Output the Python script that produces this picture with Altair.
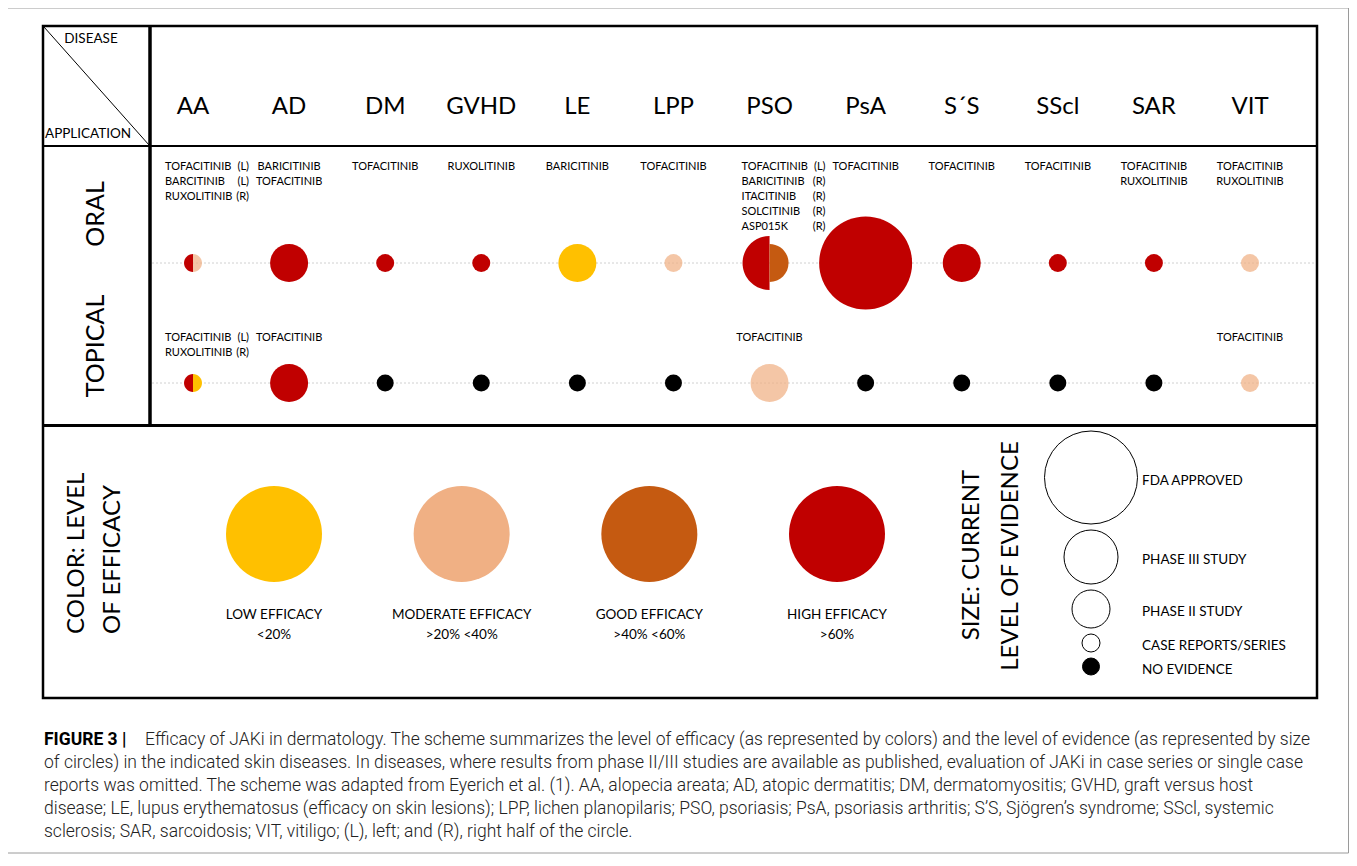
import altair as alt
import pandas as pd

# ---------------- data ----------------
DISEASES = ["AA", "AD", "DM", "GVHD", "LE", "LPP", "PSO", "PsA", "S´S", "SScl", "SAR", "VIT"]
APPLICATIONS = ["ORAL", "TOPICAL"]

ORAL_DRUGS = [
    ["TOFACITINIB (L)", "BARCITINIB (L)", "RUXOLITINIB (R)"],
    ["BARICITINIB", "TOFACITINIB"],
    ["TOFACITINIB"],
    ["RUXOLITINIB"],
    ["BARICITINIB"],
    ["TOFACITINIB"],
    ["TOFACITINIB (L)", "BARICITINIB (R)", "ITACITINIB (R)", "SOLCITINIB (R)", "ASP015K (R)"],
    ["TOFACITINIB"],
    ["TOFACITINIB"],
    ["TOFACITINIB"],
    ["TOFACITINIB", "RUXOLITINIB"],
    ["TOFACITINIB", "RUXOLITINIB"],
]
TOPICAL_DRUGS = [
    ["TOFACITINIB (L)", "RUXOLITINIB (R)"],
    ["TOFACITINIB"], [], [], [], [],
    ["TOFACITINIB"], [], [], [], [],
    ["TOFACITINIB"],
]

# "L|R" = left half | right half of the circle
ORAL_EFFICACY = ["high|moderate", "high", "high", "high", "low", "moderate",
                 "high|good", "high", "high", "high", "high", "moderate"]
ORAL_EVIDENCE = ["case", "phase2", "case", "case", "phase2", "case",
                 "phase3|phase2", "fda", "phase2", "case", "case", "case"]
TOPICAL_EFFICACY = ["high|low", "high", "none", "none", "none", "none",
                    "moderate", "none", "none", "none", "none", "moderate"]
TOPICAL_EVIDENCE = ["case", "phase2", "none", "none", "none", "none",
                    "phase2", "none", "none", "none", "none", "case"]

EFFICACY_KEYS = ["low", "moderate", "good", "high"]
EFFICACY_LABELS = ["LOW EFFICACY", "MODERATE EFFICACY", "GOOD EFFICACY", "HIGH EFFICACY"]
EFFICACY_RANGES = ["<20%", ">20% <40%", ">40% <60%", ">60%"]

EVIDENCE_KEYS = ["fda", "phase3", "phase2", "case", "none"]
EVIDENCE_LABELS = ["FDA APPROVED", "PHASE III STUDY", "PHASE II STUDY",
                   "CASE REPORTS/SERIES", "NO EVIDENCE"]

CAPTION_BOLD = "FIGURE 3 |"
CAPTION_LINES = [
    "Efficacy of JAKi in dermatology. The scheme summarizes the level of efficacy (as represented by colors) and the level of evidence (as represented by size",
    "of circles) in the indicated skin diseases. In diseases, where results from phase II/III studies are available as published, evaluation of JAKi in case series or single case",
    "reports was omitted. The scheme was adapted from Eyerich et al. (1). AA, alopecia areata; AD, atopic dermatitis; DM, dermatomyositis; GVHD, graft versus host",
    "disease; LE, lupus erythematosus (efficacy on skin lesions); LPP, lichen planopilaris; PSO, psoriasis; PsA, psoriasis arthritis; S’S, Sjögren’s syndrome; SScl, systemic",
    "sclerosis; SAR, sarcoidosis; VIT, vitiligo; (L), left; and (R), right half of the circle.",
]

# ---------------- style ----------------
FONT = "Lato"
CAP_FONT = "Roboto"
EFF_COLORS = ["#FFC000", "#F0B084", "#C55A11", "#C00000", "#000000"]
DIAM = {"fda": 93, "phase3": 54, "phase2": 38, "case": 18, "none": 17}
LEFT_HALF = "M0,-1A1,1,0,0,0,0,1Z"
RIGHT_HALF = "M0,-1A1,1,0,0,1,0,1Z"
DRUG_SIZE = 11

OFF = 8
W, H = 1341, 846


def v(p):
    return p - OFF


COLOR_SCALE = alt.Scale(domain=EFFICACY_KEYS + ["none"], range=EFF_COLORS)
SIZE_SCALE = alt.Scale(type="ordinal", domain=EVIDENCE_KEYS,
                       range=[DIAM[k] ** 2 for k in EVIDENCE_KEYS])
SHAPE_SCALE = alt.Scale(domain=["L", "R", "F"], range=[LEFT_HALF, RIGHT_HALF, "circle"])
X_GRID = alt.Scale(type="point", domain=DISEASES, range=[v(193), v(1250)], padding=0)
Y_ROW = alt.Scale(type="point", domain=APPLICATIONS, range=[v(263), v(383)], padding=0)
Y_TXT = alt.Scale(type="point", domain=APPLICATIONS, range=[v(161), v(332)], padding=0)
Y_APP = alt.Scale(type="point", domain=APPLICATIONS, range=[v(214), v(346)], padding=0)


def dummy():
    return alt.Chart(pd.DataFrame({"k": [0]}))


def rule(x1, y1, x2, y2, width, color="black"):
    return dummy().mark_rule(color=color, strokeWidth=width).encode(
        x=alt.value(v(x1)), y=alt.value(v(y1)), x2=alt.value(v(x2)), y2=alt.value(v(y2)))


def box(x1, y1, x2, y2, color, width):
    return dummy().mark_rect(fill="transparent", stroke=color, strokeWidth=width).encode(
        x=alt.value(v(x1)), y=alt.value(v(y1)), x2=alt.value(v(x2)), y2=alt.value(v(y2)))


def label(text, x, y, size, align="center", angle=0, weight="normal", font=FONT,
          baseline="middle", color="black"):
    return dummy().mark_text(text=text, font=font, fontSize=size, align=align,
                             baseline=baseline, angle=angle, fontWeight=weight,
                             color=color).encode(x=alt.value(v(x)), y=alt.value(v(y)))


# ---------------- tables ----------------
grid_rows = []
for i, d in enumerate(DISEASES):
    for app, effs, evs in [("ORAL", ORAL_EFFICACY, ORAL_EVIDENCE),
                           ("TOPICAL", TOPICAL_EFFICACY, TOPICAL_EVIDENCE)]:
        e = effs[i].split("|")
        s = evs[i].split("|")
        if len(s) == 1:
            s = s * len(e)
        sides = ["L", "R"] if len(e) == 2 else ["F"]
        for side, ef, ev in zip(sides, e, s):
            grid_rows.append({"disease": d, "app": app, "side": side, "eff": ef, "ev": ev})
grid_df = pd.DataFrame(grid_rows)

plain_rows, tag_rows = [], []
for i, d in enumerate(DISEASES):
    for app, drugs in [("ORAL", ORAL_DRUGS[i]), ("TOPICAL", TOPICAL_DRUGS[i])]:
        if not drugs:
            continue
        if all(x.endswith(")") for x in drugs):
            names = [x.rsplit(" ", 1)[0] for x in drugs]
            tags = [x.rsplit(" ", 1)[1] for x in drugs]
            tag_rows.append({"disease": d, "app": app, "names": "\n".join(names),
                             "tags": "\n".join(tags)})
        else:
            plain_rows.append({"disease": d, "app": app, "names": "\n".join(drugs)})
plain_df = pd.DataFrame(plain_rows)
tag_df = pd.DataFrame(tag_rows)

eff_df = pd.DataFrame({"eff": EFFICACY_KEYS,
                       "text": [a + "\n" + b for a, b in zip(EFFICACY_LABELS, EFFICACY_RANGES)]})

ev_df = pd.DataFrame({"ev": EVIDENCE_KEYS, "label": EVIDENCE_LABELS,
                      "order": list(range(len(EVIDENCE_KEYS))),
                      "slot": [DIAM[k] + 6 for k in EVIDENCE_KEYS]})

cap_df = pd.DataFrame({"line": list(range(len(CAPTION_LINES))), "text": CAPTION_LINES})

# ---------------- layers ----------------
layers = []

# frames
layers.append(box(7, 8, 1348.5, 853, "#9a9a9a", 1))
layers.append(box(43, 26, 1317, 698, "black", 2.5))
layers.append(rule(43, 146, 1317, 146, 2))
layers.append(rule(43, 425.5, 1317, 425.5, 3))
layers.append(rule(150, 26, 150, 425.5, 3.5))
layers.append(rule(44, 27, 149, 145, 1))

# dotted row guides
layers.append(alt.Chart(pd.DataFrame({"app": APPLICATIONS})).mark_rule(
    color="#c4c4c4", strokeWidth=0.8, strokeDash=[2, 2]).encode(
    y=alt.Y("app:N", scale=Y_ROW, axis=None),
    x=alt.value(v(152)), x2=alt.value(v(1316))))

# corner labels
layers.append(label("DISEASE", 91, 39, 13.5))
layers.append(label("APPLICATION", 45, 134, 13.5, align="left"))

# disease header
layers.append(alt.Chart(pd.DataFrame({"disease": DISEASES})).mark_text(
    font=FONT, fontSize=24, baseline="middle").encode(
    x=alt.X("disease:N", scale=X_GRID, axis=None),
    y=alt.value(v(107)), text="disease:N"))

# application labels
layers.append(alt.Chart(pd.DataFrame({"app": APPLICATIONS})).mark_text(
    font=FONT, fontSize=25, angle=270, baseline="middle").encode(
    y=alt.Y("app:N", scale=Y_APP, axis=None),
    x=alt.value(v(96)), text="app:N"))

# drug names
layers.append(alt.Chart(plain_df).mark_text(
    font=FONT, fontSize=DRUG_SIZE, baseline="top", align="center",
    lineBreak="\n", lineHeight=15).encode(
    x=alt.X("disease:N", scale=X_GRID, axis=None),
    y=alt.Y("app:N", scale=Y_TXT, axis=None), text="names:N"))
layers.append(alt.Chart(tag_df).mark_text(
    font=FONT, fontSize=DRUG_SIZE, baseline="top", align="left", dx=-28,
    lineBreak="\n", lineHeight=15).encode(
    x=alt.X("disease:N", scale=X_GRID, axis=None),
    y=alt.Y("app:N", scale=Y_TXT, axis=None), text="names:N"))
layers.append(alt.Chart(tag_df).mark_text(
    font=FONT, fontSize=DRUG_SIZE, baseline="top", align="right", dx=56,
    lineBreak="\n", lineHeight=15).encode(
    x=alt.X("disease:N", scale=X_GRID, axis=None),
    y=alt.Y("app:N", scale=Y_TXT, axis=None), text="tags:N"))

# grid circles
layers.append(alt.Chart(grid_df).mark_point(filled=True, strokeWidth=0).encode(
    x=alt.X("disease:N", scale=X_GRID, axis=None),
    y=alt.Y("app:N", scale=Y_ROW, axis=None),
    shape=alt.Shape("side:N", scale=SHAPE_SCALE, legend=None),
    size=alt.Size("ev:N", scale=SIZE_SCALE, legend=None),
    color=alt.Color("eff:N", scale=COLOR_SCALE, legend=None),
    opacity=alt.condition(alt.datum.eff == "moderate", alt.value(0.72), alt.value(1.0))))

# colour legend
layers.append(label("COLOR: LEVEL", 77, 634, 24, align="left", angle=270))
layers.append(label("OF EFFICACY", 113, 634, 24, align="left", angle=270))
X_EFF = alt.Scale(type="point", domain=EFFICACY_KEYS, range=[v(274), v(837)], padding=0)
layers.append(alt.Chart(eff_df).mark_point(filled=True, strokeWidth=0, opacity=1,
                                           size=96 ** 2, shape="circle").encode(
    x=alt.X("eff:N", scale=X_EFF, axis=None),
    y=alt.value(v(534)),
    color=alt.Color("eff:N", scale=COLOR_SCALE, legend=None)))
layers.append(alt.Chart(eff_df).mark_text(
    font=FONT, fontSize=13.5, baseline="top", align="center",
    lineBreak="\n", lineHeight=19.5).encode(
    x=alt.X("eff:N", scale=X_EFF, axis=None),
    y=alt.value(v(608)), text="text:N"))

# size legend
layers.append(label("SIZE: CURRENT", 972, 555, 24, angle=270))
layers.append(label("LEVEL OF EVIDENCE", 1011, 556, 24, angle=270))
Y_STACK = alt.Scale(domain=[0, 100], range=[v(428), v(528)])
ev_base = alt.Chart(ev_df).transform_window(
    cum="sum(slot)", sort=[alt.SortField("order")]
).transform_calculate(yc="datum.cum - datum.slot / 2")
layers.append(ev_base.mark_point(filled=True, shape="circle", stroke="black",
                                 strokeWidth=1, opacity=1).encode(
    x=alt.value(v(1091)),
    y=alt.Y("yc:Q", scale=Y_STACK, axis=None),
    size=alt.Size("ev:N", scale=SIZE_SCALE, legend=None),
    fill=alt.condition(alt.datum.ev == "none", alt.value("black"), alt.value("white"))))
layers.append(ev_base.mark_text(font=FONT, fontSize=13.5, align="left",
                                baseline="middle", dy=3).encode(
    x=alt.value(v(1142)),
    y=alt.Y("yc:Q", scale=Y_STACK, axis=None), text="label:N"))

# caption
CAP_SIZE = 17.5
Y_CAP = alt.Scale(type="point", domain=list(range(len(CAPTION_LINES))),
                  range=[v(740), v(832)], padding=0)
layers.append(label(CAPTION_BOLD, 44, 740, CAP_SIZE, align="left", weight="bold", font=CAP_FONT))
layers.append(alt.Chart(cap_df).transform_filter(alt.datum.line == 0).mark_text(
    font=CAP_FONT, fontSize=CAP_SIZE, fontWeight=300, align="left", baseline="middle",
    color="#222222").encode(
    x=alt.value(v(145)), y=alt.Y("line:O", scale=Y_CAP, axis=None), text="text:N"))
layers.append(alt.Chart(cap_df).transform_filter(alt.datum.line > 0).mark_text(
    font=CAP_FONT, fontSize=CAP_SIZE, fontWeight=300, align="left", baseline="middle",
    color="#222222").encode(
    x=alt.value(v(44)), y=alt.Y("line:O", scale=Y_CAP, axis=None), text="text:N"))

chart = alt.layer(*layers).resolve_scale(
    x="independent", y="independent", color="independent", size="independent",
    shape="independent", opacity="independent", fill="independent"
).properties(
    width=W, height=H, padding=0, autosize=alt.AutoSizeParams(type="none")
).configure_view(strokeWidth=0)

chart.save("out.html", embed_options={"renderer": "svg", "actions": False})
